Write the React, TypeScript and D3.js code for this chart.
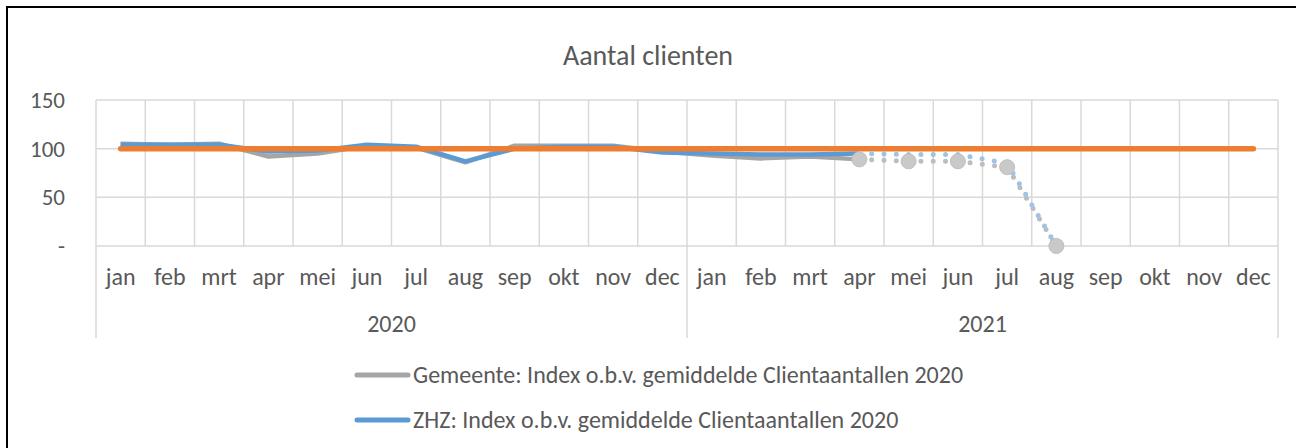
import * as d3 from 'd3';
import {useEffect, useRef} from 'react';

const width = 1296;
const height = 448;

const months = ['jan', 'feb', 'mrt', 'apr', 'mei', 'jun', 'jul', 'aug', 'sep', 'okt', 'nov', 'dec'];
const years = ['2020', '2021'];
const yTicks = [0, 50, 100, 150];

// jan 2020 .. apr 2021 (solid)
const gemeente = [105, 104, 105, 92, 95, 103, 101, 86, 103, 103, 103, 97, 93, 90, 92, 89];
const zhz = [104, 104, 104, 97, 98, 104, 102, 87, 100, 102, 102, 96, 95, 94, 94, 95];
// apr 2021 .. aug 2021 (dotted)
const gemeenteDotted = [89, 87, 87, 81, 0];
const zhzDotted = [95, 94, 94, 85, 0];
const baseline = [100, 100, 100, 100, 100, 100, 100, 100, 100, 100, 100, 100,
  100, 100, 100, 100, 100, 100, 100, 100, 100, 100, 100, 100];

const legendItems = [
  {label: 'Gemeente: Index o.b.v. gemiddelde Clientaantallen 2020', color: '#A5A5A5'},
  {label: 'ZHZ: Index o.b.v. gemiddelde Clientaantallen 2020', color: '#5B9BD5'},
];

const font = 'Carlito, Lato, sans-serif';
const textColor = '#595959';
const gridColor = '#D9D9D9';

function App() {
  const ref = useRef(null);

  useEffect(() => {
    const svg = d3
      .select(ref.current)
      .append('svg')
      .attr('width', width)
      .attr('height', height)
      .style('position', 'absolute')
      .style('left', '0px')
      .style('top', '0px')
      .style('background', '#fff');

    const left = 96;
    const right = 1278;
    const top = 100;
    const bottom = 246;

    const cats = d3.range(24);
    const x = d3.scaleBand().domain(cats).range([left, right]);
    const cx = i => x(i) + x.bandwidth() / 2;
    const y = d3.scaleLinear().domain([0, 150]).range([bottom, top]);

    // frame
    svg
      .append('path')
      .attr('d', `M7,${height + 5} V7 H${width + 5}`)
      .attr('fill', 'none')
      .attr('stroke', '#000')
      .attr('stroke-width', 2);

    svg
      .append('text')
      .attr('x', 648)
      .attr('y', 65)
      .attr('text-anchor', 'middle')
      .attr('font-family', font)
      .attr('font-size', 28)
      .attr('fill', textColor)
      .text('Aantal clienten');

    // grid
    const grid = svg.append('g').attr('stroke', gridColor).attr('stroke-width', 1.5);
    yTicks.forEach(t => {
      grid.append('line').attr('x1', left).attr('x2', right).attr('y1', y(t)).attr('y2', y(t));
    });
    d3.range(25).forEach(i => {
      const xx = i < 24 ? x(i) : right;
      const ext = i === 0 || i === 12 || i === 24;
      grid
        .append('line')
        .attr('x1', xx)
        .attr('x2', xx)
        .attr('y1', top)
        .attr('y2', ext ? 338 : bottom);
    });

    // y labels
    svg
      .append('g')
      .selectAll('text')
      .data(yTicks)
      .join('text')
      .attr('x', 65)
      .attr('y', d => y(d))
      .attr('dy', '0.35em')
      .attr('text-anchor', 'end')
      .attr('font-family', font)
      .attr('font-size', 23)
      .attr('fill', textColor)
      .text(d => (d === 0 ? '-' : d));

    // month labels
    svg
      .append('g')
      .selectAll('text')
      .data(cats)
      .join('text')
      .attr('x', d => cx(d))
      .attr('y', 285)
      .attr('text-anchor', 'middle')
      .attr('font-family', font)
      .attr('font-size', 24)
      .attr('fill', textColor)
      .text(d => months[d % 12]);

    svg
      .append('g')
      .selectAll('text')
      .data(years)
      .join('text')
      .attr('x', (d, i) => (x(i * 12) + (i === 0 ? x(12) : right)) / 2)
      .attr('y', 332)
      .attr('text-anchor', 'middle')
      .attr('font-family', font)
      .attr('font-size', 24)
      .attr('fill', textColor)
      .text(d => d);

    const line = offset =>
      d3
        .line()
        .x((d, i) => cx(i + offset))
        .y(d => y(d));

    const lines = svg.append('g').attr('fill', 'none');
    lines
      .append('path')
      .attr('d', line(0)(gemeente))
      .attr('stroke', '#A5A5A5')
      .attr('stroke-width', 4.5)
      .attr('stroke-linejoin', 'round');
    lines
      .append('path')
      .attr('d', line(0)(zhz))
      .attr('stroke', '#5B9BD5')
      .attr('stroke-width', 4.5)
      .attr('stroke-linejoin', 'round');
    lines
      .append('path')
      .attr('d', line(0)(baseline))
      .attr('stroke', '#ED7D31')
      .attr('stroke-width', 5.5)
      .attr('stroke-linecap', 'round');

    const dash = `0 ${x.bandwidth() / 4}`;
    lines
      .append('path')
      .attr('d', line(15)(gemeenteDotted))
      .attr('stroke', '#BDBDBD')
      .attr('stroke-width', 5)
      .attr('stroke-linecap', 'round')
      .attr('stroke-dasharray', dash);
    svg
      .append('g')
      .selectAll('circle')
      .data(gemeenteDotted)
      .join('circle')
      .attr('cx', (d, i) => cx(i + 15))
      .attr('cy', d => y(d))
      .attr('r', 7.5)
      .attr('fill', '#C9C9C9')
      .attr('stroke', '#BFBFBF')
      .attr('stroke-width', 1);
    lines
      .append('path')
      .attr('d', line(15)(zhzDotted))
      .attr('stroke', '#9DC3E6')
      .attr('stroke-width', 5)
      .attr('stroke-linecap', 'round')
      .attr('stroke-dasharray', dash);

    // legend
    const leg = svg
      .append('g')
      .selectAll('g')
      .data(legendItems)
      .join('g')
      .attr('transform', (d, i) => `translate(0, ${375 + i * 45})`);
    leg
      .append('line')
      .attr('x1', 357)
      .attr('x2', 408)
      .attr('stroke', d => d.color)
      .attr('stroke-width', 5)
      .attr('stroke-linecap', 'round');
    leg
      .append('text')
      .attr('x', 413)
      .attr('dy', '0.35em')
      .attr('font-family', font)
      .attr('font-size', 24)
      .attr('fill', textColor)
      .text(d => d.label);

    return () => svg.remove();
  }, []);

  return <div ref={ref}></div>;
}

export default App;
